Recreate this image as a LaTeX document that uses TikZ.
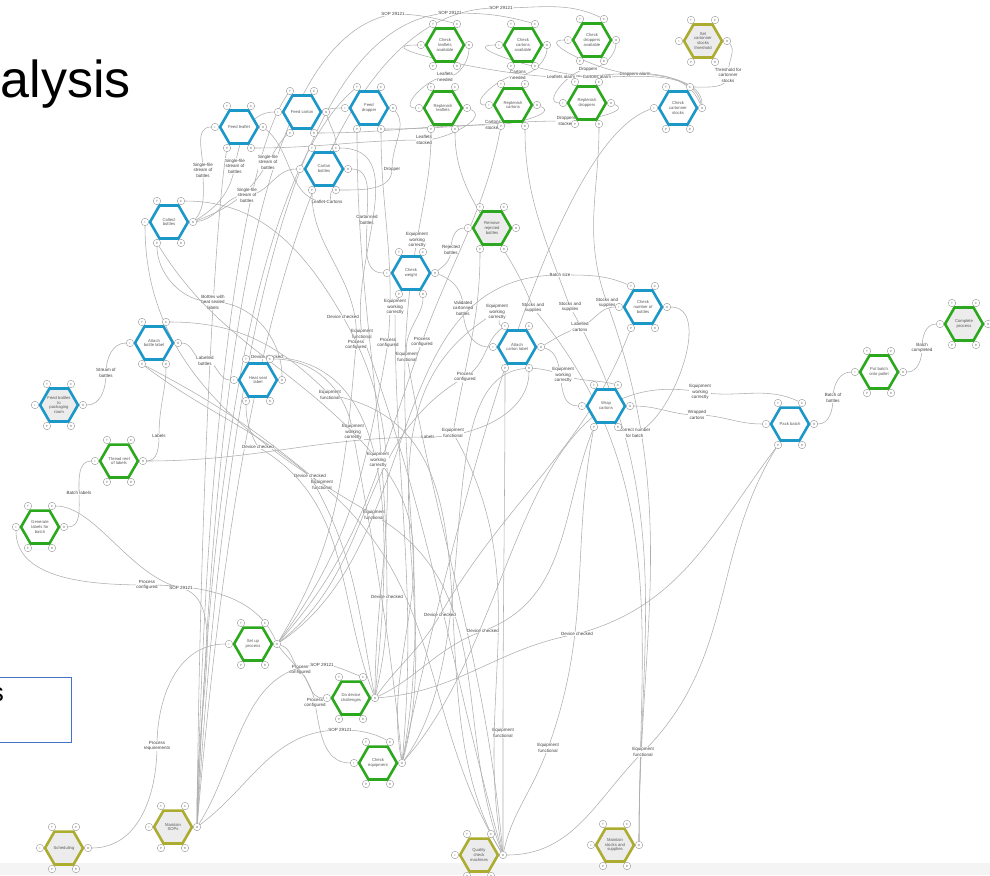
\documentclass[tikz,border=0pt]{standalone}
\usepackage{fontspec}
\setmainfont{Liberation Sans}
\usetikzlibrary{shapes.geometric}
\definecolor{fnblue}{RGB}{27,152,200}
\definecolor{fngreen}{RGB}{44,168,30}
\definecolor{fnolive}{RGB}{172,172,48}
\definecolor{fngrey}{RGB}{236,236,236}
\definecolor{boxblue}{RGB}{68,114,196}
\pgfdeclarelayer{bg}
\pgfsetlayers{bg,main}

\begin{document}
\begin{tikzpicture}[x=1pt,y=1pt,yscale=-1,
  fn/.style={regular polygon, regular polygon sides=6, minimum size=38pt, inner sep=0pt,
    line width=2.6pt, align=center, font=\fontsize{4.2}{4.9}\selectfont, text=black!65},
  asp/.style={circle, draw=black!40, fill=white, line width=0.4pt, minimum size=7.5pt,
    inner sep=0pt, font=\fontsize{3}{3}\selectfont, text=black!60},
  flow/.style={draw=black!32, line width=0.55pt},
  lbl/.style={fill=white, inner sep=0.4pt, align=center,
    font=\fontsize{4.5}{5.6}\selectfont, text=black!75}]
\useasboundingbox (0,0) rectangle (990,875);

% title and box
\node[anchor=base east, inner sep=0pt, font=\fontsize{52}{52}\selectfont] (title) at (131,97) {alysis};
\node[draw=boxblue, line width=1.2pt, minimum width=74pt, minimum height=65pt, inner sep=0pt,
  anchor=north west] (box) at (-3,677) {};
\node[anchor=base east, inner sep=0pt, font=\fontsize{26}{26}\selectfont] (boxtxt) at (4,701) {s};

% Functions
\foreach \n/\x/\y/\c/\f/\t in {
  fl/239/127/fnblue/white/{Feed leaflet},
  fc/302/112/fnblue/white/{Feed carton},
  fd/369/108/fnblue/white/{Feed\\dropper},
  cb/324/169/fnblue/white/{Carton\\bottles},
  col/169/222/fnblue/white/{Collect\\bottles},
  cw/411/273/fnblue/white/{Check\\weight},
  abl/154/343/fnblue/white/{Attach\\bottle label},
  hsl/258/380/fnblue/white/{Heat seal\\label},
  fb/59/405/fnblue/fngrey/{Feed bottles\\to\\packaging\\room},
  acl/517/347/fnblue/white/{Attach\\carton label},
  cnb/643/307/fnblue/white/{Check\\number of\\bottles},
  wc/606/406/fnblue/white/{Wrap\\cartons},
  pb/790/424/fnblue/white/{Pack batch},
  ccs/678/108/fnblue/white/{Check\\cartonner\\stocks},
  cla/445/45/fngreen/white/{Check\\leaflets\\available},
  cca/523/45/fngreen/white/{Check\\cartons\\available},
  cda/592/40/fngreen/white/{Check\\droppers\\available},
  rl/443/108/fngreen/white/{Replenish\\leaflets},
  rc/513/105/fngreen/white/{Replenish\\cartons},
  rd/587/103/fngreen/white/{Replenish\\droppers},
  rrb/492/228/fngreen/fngrey/{Remove\\rejected\\bottles},
  trl/119/461/fngreen/white/{Thread reel\\of labels},
  glb/40/527/fngreen/white/{Generate\\labels for\\batch},
  pbp/879/372/fngreen/white/{Put batch\\onto pallet},
  cp/964/324/fngreen/fngrey/{Complete\\process},
  sup/253/644/fngreen/white/{Set up\\process},
  ddc/351/698/fngreen/white/{Do device\\challenges},
  ce/378/763/fngreen/white/{Check\\equipment},
  scs/703/41/fnolive/fngrey/{Set\\cartonner\\stocks\\threshold},
  sch/64/848/fnolive/fngrey/{Scheduling},
  msop/173/827/fnolive/fngrey/{Maintain\\SOPs},
  qcm/479/855/fnolive/fngrey/{Quality\\check\\machines},
  mss/615/845/fnolive/fngrey/{Maintain\\stocks and\\supplies}}
{
  \node[fn, draw=\c, fill=\f] (\n) at (\x,\y) {\t};
  \foreach \a/\dx/\dy in {T/-12/-21,C/12/-21,I/-24/0,O/24/0,P/-12/21,R/12/21}
    \node[asp] (\n\a) at (\x+\dx,\y+\dy) {\a};
}

\begin{pgfonlayer}{bg}
\fill[fngrey!60] (0,863) rectangle (990,875);

% check and replenish supplies
\draw[flow] (claO) to[out=90,in=0] (445,77) node[lbl]{Leaflets\\needed} to[out=180,in=180] (rlI);
\draw[flow] (ccaO) to[out=90,in=0] (518,75) node[lbl]{Cartons\\needed} to[out=180,in=180] (rcI);
\draw[flow] (cdaO) to[out=90,in=0] (588,69) node[lbl]{Droppers} to[out=180,in=180] (rdI);
\draw[flow] (ccsO) to[out=-90,in=0] (635,74) node[lbl]{Droppers alarm} to[out=180,in=180] (cdaI);
\draw[flow] (ccsO) to[out=-100,in=0] (597,77) node[lbl]{Cartons alarm} to[out=180,in=180] (ccaI);
\draw[flow] (ccsO) to[out=-110,in=0] (561,77) node[lbl]{Leaflets alarm} to[out=180,in=180] (claI);
\draw[flow] (scsO) to[out=60,in=-90] (728,75) node[lbl]{Threshold for\\cartonner\\stocks} to[out=90,in=0] (ccsC);
\draw[flow] (rlO) to[out=30,in=0] (424,140) node[lbl]{Leaflets\\stocked} to[out=180,in=0] (flR);
\draw[flow] (rcO) to[out=30,in=0] (493,125) node[lbl]{Cartons\\stocked} to[out=180,in=0] (fcR);
\draw[flow] (rdO) to[out=30,in=0] (566,121) node[lbl]{Droppers\\stocked} to[out=180,in=0] (fdR);
\draw[flow] (mssO) to[out=-90,in=70] (607,303) node[lbl]{Stocks and\\supplies} to[out=-110,in=90] (rdR);
\draw[flow] (mssO) to[out=-90,in=60] (570,307) node[lbl]{Stocks and\\supplies} to[out=-110,in=90] (rcR);
\draw[flow] (mssO) to[out=-90,in=50] (533,308) node[lbl]{Stocks and\\supplies} to[out=-110,in=90] (rlR);

% SOP lines
\draw[flow] (msopO) .. controls (215,400) and (250,40) .. (393,14) node[lbl]{SOP 29121} to[out=0,in=-160] (claC);
\draw[flow] (msopO) .. controls (222,420) and (280,20) .. (450,13) node[lbl]{SOP 29121} to[out=0,in=-160] (ccaC);
\draw[flow] (msopO) .. controls (230,440) and (300,2) .. (501,8) node[lbl]{SOP 29121} to[out=0,in=-150] (cdaC);
\draw[flow] (msopO) .. controls (205,450) and (240,160) .. (fcT);
\draw[flow] (msopO) .. controls (210,460) and (260,170) .. (fdT);
\draw[flow] (msopO) .. controls (200,500) and (215,220) .. (flP);

% bottle flow
\draw[flow] (fbO) to[out=0,in=90] (106,373) node[lbl]{Stream of\\bottles} to[out=-90,in=180] (ablI);
\draw[flow] (ablO) to[out=0,in=180] (205,361) node[lbl]{Labelled\\bottles} to[out=0,in=180] (hslI);
\draw[flow] (trlO) to[out=0,in=90] (159,436) node[lbl]{Labels} to[out=-90,in=90] (ablR);
\draw[flow] (glbO) to[out=0,in=90] (79,493) node[lbl]{Batch labels} to[out=-90,in=180] (trlI);
\draw[flow] (trlO) to[out=0,in=180] (428,437) node[lbl]{Labels} to[out=0,in=90] (aclR);
\draw[flow] (hslO) to[out=-90,in=0] (213,302) node[lbl]{Bottles with\\heat sealed\\labels} to[out=180,in=90] (colP);
\draw[flow] (colO) to[out=-60,in=90] (203,170) node[lbl]{Single-file\\stream of\\bottles} to[out=-90,in=180] (flI);
\draw[flow] (colO) to[out=-40,in=100] (235,166) node[lbl]{Single-file\\stream of\\bottles} to[out=-80,in=180] (fcI);
\draw[flow] (colO) to[out=-25,in=120] (268,162) node[lbl]{Single-file\\stream of\\bottles} to[out=-60,in=180] (fdI);
\draw[flow] (colO) to[out=-10,in=180] (247,195) node[lbl]{Single-file\\stream of\\bottles} to[out=0,in=180] (cbI);
\draw[flow] (flO) to[out=45,in=180] (327,202) node[lbl]{Leaflet-Cartons} to[out=0,in=135] (cbR);
\draw[flow] (fcO) to[out=80,in=-90] (cbC);
\draw[flow] (fdO) to[out=60,in=-90] (392,169) node[lbl]{Dropper} to[out=90,in=0] (cbR);
\draw[flow] (cbO) to[out=0,in=-90] (367,220) node[lbl]{Cartonned\\bottles} to[out=90,in=180] (cwI);
\draw[flow] (cwO) to[out=-60,in=90] (451,250) node[lbl]{Rejected\\bottles} to[out=-90,in=180] (rrbI);
\draw[flow] (cwO) to[out=30,in=-90] (463,308) node[lbl]{Validated\\cartonned\\bottles} to[out=90,in=180] (aclI);
\draw[flow] (aclO) to[out=-45,in=160] (580,327) node[lbl]{Labelled\\cartons} to[out=-20,in=180] (cnbI);
\draw[flow] (aclO) to[out=20,in=180] (wcI);
\draw[flow] (cnbO) to[out=0,in=45] node[lbl,pos=0.88]{Correct number\\for batch} (wcR);
\draw[flow] (wcO) to[out=0,in=180] (697,415) node[lbl]{Wrapped\\cartons} to[out=0,in=180] (pbI);
\draw[flow] (pbO) to[out=0,in=90] (833,398) node[lbl]{Batch of\\bottles} to[out=-90,in=180] (pbpI);
\draw[flow] (pbpO) to[out=0,in=90] (922,348) node[lbl]{Batch\\completed} to[out=-90,in=180] (cpI);

% set up, SOPs and scheduling
\draw[flow] (schO) to[out=0,in=90] (157,746) node[lbl]{Process\\requirements} to[out=-90,in=180] (supI);
\draw[flow] (supO) to[out=-110,in=0] (147,585) node[lbl]{Process\\configured} to[out=180,in=90] (glbI);
\draw[flow] (msopO) .. controls (195,700) and (230,600) .. (181,588) node[lbl]{SOP 29121} .. controls (130,576) and (95,506) .. (glbC);
\draw[flow] (supO) to[out=30,in=-135] (300,670) node[lbl]{Process\\configured} to[out=45,in=180] (ddcI);
\draw[flow] (supO) to[out=60,in=-100] (315,703) node[lbl]{Process\\configured} to[out=80,in=180] (ceI);
\draw[flow] (msopO) to[out=-60,in=180] (322,665) node[lbl]{SOP 29121} to[out=0,in=-150] (ddcC);
\draw[flow] (msopO) to[out=-40,in=180] (340,730) node[lbl]{SOP 29121} to[out=0,in=-140] (ceC);

% equipment functional
\draw[flow] (qcmO) to[out=-90,in=90] (503,733) node[lbl]{Equipment\\functional} to[out=-90,in=90] (aclP);
\draw[flow] (qcmO) to[out=-80,in=110] (548,748) node[lbl]{Equipment\\functional} to[out=-70,in=100] (wcP);
\draw[flow] (qcmO) to[out=0,in=135] (643,752) node[lbl]{Equipment\\functional} to[out=-45,in=120] (pbP);
\draw[flow] (qcmO) to[out=-95,in=80] (407,357) node[lbl]{Equipment\\functional} to[out=-100,in=90] (cwR);
\draw[flow] (qcmO) to[out=-100,in=60] (453,433) node[lbl]{Equipment\\functional} to[out=-80,in=90] (rrbP);
\draw[flow] (qcmO) to[out=-105,in=70] (362,334) node[lbl]{Equipment\\functional} to[out=-100,in=0] (cbC);
\draw[flow] (qcmO) to[out=-120,in=10] (330,395) node[lbl]{Equipment\\functional} to[out=-135,in=0] (ablC);
\draw[flow] (qcmO) to[out=-120,in=40] (322,485) node[lbl]{Equipment\\functional} to[out=-140,in=30] (ablP);
\draw[flow] (qcmO) to[out=-110,in=30] (374,515) node[lbl]{Equipment\\functional} to[out=-150,in=90] (colI);

% process configured
\draw[flow] (supO) to[out=-60,in=95] (356,345) node[lbl]{Process\\configured} to[out=-85,in=90] (cbP);
\draw[flow] (supO) to[out=-55,in=100] (388,343) node[lbl]{Process\\configured} to[out=-85,in=90] (fdR);
\draw[flow] (supO) to[out=-50,in=110] (422,342) node[lbl]{Process\\configured} to[out=-70,in=100] (rcP);
\draw[flow] (supO) to[out=-40,in=150] (465,377) node[lbl]{Process\\configured} to[out=-30,in=135] (aclT);
\draw[flow] (supO) to[out=-35,in=180] (560,275) node[lbl]{Batch size} to[out=0,in=-150] (cnbT);

% device checked
\draw[flow] (ddcO) to[out=-80,in=90] (387,597) node[lbl]{Device checked} to[out=-90,in=90] (fdP);
\draw[flow] (ddcO) to[out=-60,in=120] (440,615) node[lbl]{Device checked} to[out=-60,in=110] (cnbP);
\draw[flow] (ddcO) to[out=-30,in=160] (483,631) node[lbl]{Device checked} to[out=-20,in=110] (wcP);
\draw[flow] (ddcO) to[out=-5,in=170] (577,634) node[lbl]{Device checked} to[out=-15,in=125] (pbP);
\draw[flow] (ddcO) to[out=-100,in=60] (310,476) node[lbl]{Device checked} to[out=-140,in=40] (ablP);
\draw[flow] (ddcO) to[out=-110,in=30] (258,447) node[lbl]{Device checked} to[out=-120,in=90] (hslP);
\draw[flow] (ddcO) to[out=-85,in=0] (267,357) node[lbl]{Device checked} to[out=180,in=0] (hslT);
\draw[flow] (ddcO) to[out=-90,in=60] (343,317) node[lbl]{Device checked} to[out=-120,in=0] (colC);

% equipment working correctly
\draw[flow] (ceO) to[out=-85,in=90] (395,307) node[lbl]{Equipment\\working\\correctly} to[out=-90,in=90] (cwP);
\draw[flow] (ceO) to[out=-80,in=100] (417,240) node[lbl]{Equipment\\working\\correctly} to[out=-80,in=90] (rlP);
\draw[flow] (ceO) to[out=-75,in=150] (497,312) node[lbl]{Equipment\\working\\correctly} to[out=-30,in=-150] (aclT);
\draw[flow] (ceO) to[out=-95,in=80] (353,432) node[lbl]{Equipment\\working\\correctly} to[out=-100,in=0] (hslC);
\draw[flow] (ceO) to[out=-100,in=50] (378,460) node[lbl]{Equipment\\working\\correctly} to[out=-130,in=60] (colP);
\draw[flow] (ceO) to[out=-55,in=200] (563,375) node[lbl]{Equipment\\working\\correctly} to[out=20,in=-160] (wcC);
\draw[flow] (ceO) to[out=-50,in=190] (700,392) node[lbl]{Equipment\\working\\correctly} to[out=10,in=-150] (pbC);
\draw[flow] (ceO) .. controls (470,450) and (560,140) .. (ccsI);
\end{pgfonlayer}

\end{tikzpicture}
\end{document}
